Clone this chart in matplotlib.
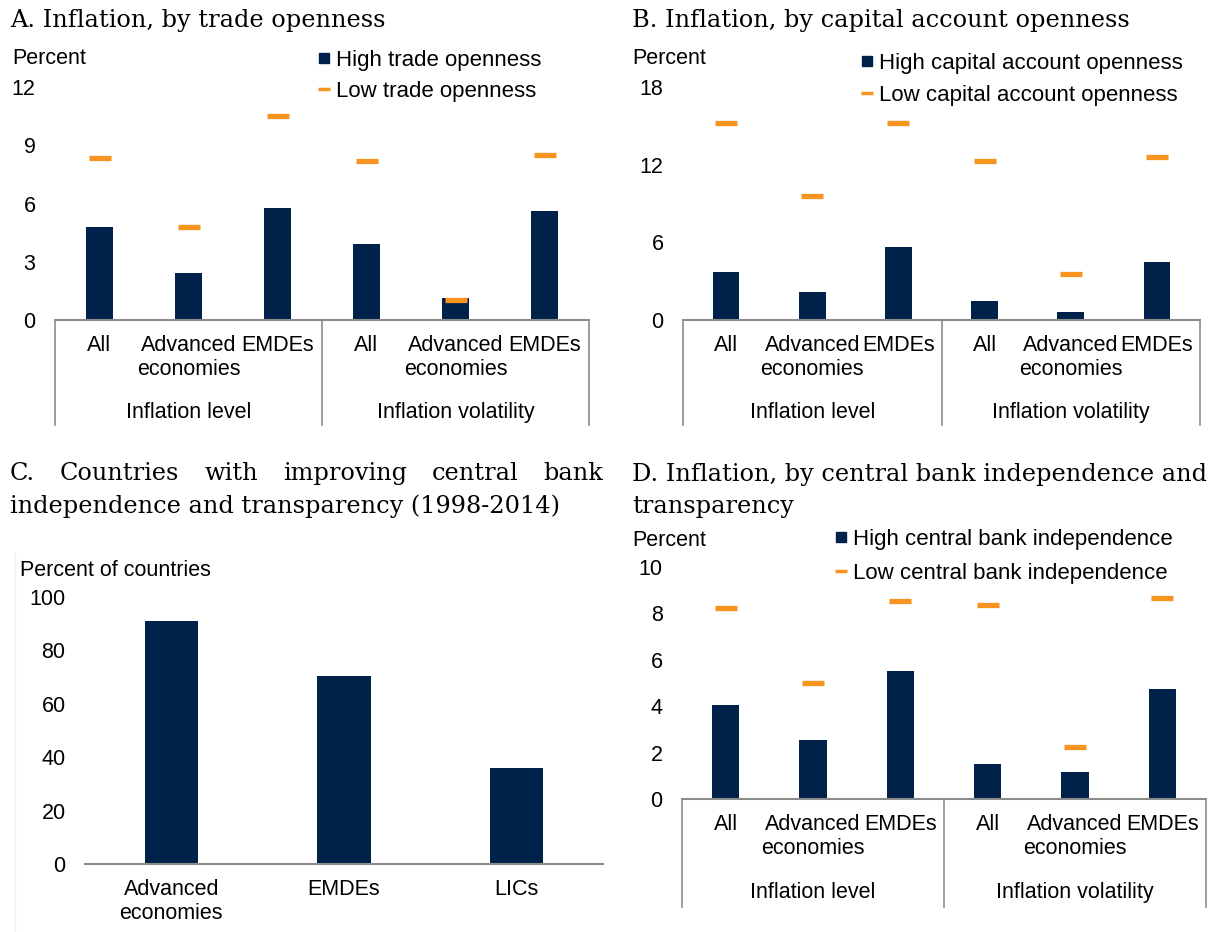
import matplotlib
matplotlib.use("Agg")
import matplotlib.pyplot as plt
from matplotlib.lines import Line2D

NAVY = "#00224A"
ORANGE = "#F7931E"
GRAY = "#8C8C8C"

# categories
cat_labels = ["All", "Advanced\neconomies", "EMDEs", "All", "Advanced\neconomies", "EMDEs"]
group_labels = ["Inflation level", "Inflation volatility"]

# panel A: trade openness
a_high = [4.8, 2.4, 5.75, 3.9, 1.15, 5.6]
a_low = [8.35, 4.8, 10.5, 8.2, 1.05, 8.5]

# panel B: capital account openness
b_high = [3.7, 2.15, 5.65, 1.5, 0.65, 4.45]
b_low = [15.2, 9.55, 15.2, 12.25, 3.55, 12.6]

# panel C: countries with improving CB independence
c_cats = ["Advanced\neconomies", "EMDEs", "LICs"]
c_vals = [91, 70.5, 36]

# panel D: central bank independence
d_high = [4.05, 2.55, 5.5, 1.5, 1.15, 4.75]
d_low = [8.25, 5.0, 8.55, 8.35, 2.25, 8.65]

W, H = 1208, 932
FS = 15.5
plt.rcParams["font.family"] = ["Liberation Sans", "DejaVu Sans"]
fig = plt.figure(figsize=(W / 100, H / 100), dpi=100)


def px_axes(left, right, top, bottom):
    return fig.add_axes([left / W, 1 - bottom / H, (right - left) / W, (bottom - top) / H])


def fx(x):
    return x / W


def fy(y):
    return 1 - y / H


def style_axis(ax):
    for s in ["left", "right", "top"]:
        ax.spines[s].set_visible(False)
    ax.spines["bottom"].set_color(GRAY)
    ax.spines["bottom"].set_linewidth(1.5)
    ax.tick_params(axis="both", length=0, labelsize=FS, pad=14)
    ax.tick_params(axis="x", pad=11)


def grouped_panel(ax, high, low, ymax, ystep, bottom_frac, label_off):
    x = list(range(len(high)))
    ax.bar(x, high, width=0.31, color=NAVY, zorder=2)
    ax.plot(x, low, linestyle="none", marker="_", markersize=16, markeredgewidth=3.8,
            color=ORANGE, zorder=3)
    ax.set_xlim(-0.5, len(high) - 0.5)
    ax.set_ylim(0, ymax)
    ax.set_yticks(range(0, ymax + 1, ystep))
    ax.set_xticks(x)
    ax.set_xticklabels(cat_labels, linespacing=1.2, va="top")
    style_axis(ax)
    tr = ax.get_xaxis_transform()
    for xv in [-0.5, 2.5, 5.5]:
        ax.plot([xv, xv], [0, bottom_frac], color=GRAY, lw=1.2, transform=tr, clip_on=False)
    for xv, g in zip([1, 4], group_labels):
        ax.text(xv, bottom_frac + label_off, g, transform=tr, ha="center", va="center", fontsize=FS)


def legend(ax, x, y, labels, spacing=0.45):
    handles = [
        Line2D([], [], linestyle="none", marker="s", markersize=7, color=NAVY),
        Line2D([], [], linestyle="none", marker="_", markersize=8, markeredgewidth=2.5, color=ORANGE),
    ]
    ax.legend(handles, labels, loc="upper left", bbox_to_anchor=(fx(x), fy(y)),
              bbox_transform=fig.transFigure, frameon=False, fontsize=16,
              handlelength=0.5, handletextpad=0.3, labelspacing=spacing, borderpad=0,
              borderaxespad=0)


title_kw = dict(family="DejaVu Serif", fontsize=17.3, va="center", ha="left")

# A
axA = px_axes(55, 589, 87, 320)
grouped_panel(axA, a_high, a_low, 12, 3, -0.45, 0.052)
fig.text(fx(10), fy(21), "A. Inflation, by trade openness", **title_kw)
fig.text(fx(12), fy(59), "Percent", fontsize=FS, va="center")
legend(axA, 318, 50, ["High trade openness", "Low trade openness"])

# B
axB = px_axes(683, 1200, 87, 320)
grouped_panel(axB, b_high, b_low, 18, 6, -0.45, 0.052)
fig.text(fx(632), fy(21), "B. Inflation, by capital account openness", **title_kw)
fig.text(fx(632), fy(59), "Percent", fontsize=FS, va="center")
legend(axB, 861, 53, ["High capital account openness", "Low capital account openness"], 0.5)

# C
axC = px_axes(85, 603, 597, 864)
axC.bar(range(len(c_vals)), c_vals, width=0.31, color=NAVY)
axC.set_xlim(-0.5, len(c_vals) - 0.5)
axC.set_ylim(0, 100)
axC.set_yticks(range(0, 101, 20))
axC.set_xticks(range(len(c_vals)))
axC.set_xticklabels(c_cats, linespacing=1.2, va="top")
style_axis(axC)
fig.text(fx(20), fy(571), "Percent of countries", fontsize=FS, va="center")
fig.add_artist(Line2D([fx(15), fx(15)], [fy(553), 0], color="#EFEFEF", lw=1))

# justified first line of panel C title
fig.canvas.draw()
renderer = fig.canvas.get_renderer()
words = ["C.", "Countries", "with", "improving", "central", "bank"]
x0, x1 = 10, 603
texts = [fig.text(0, fy(474), w, **title_kw) for w in words]
widths = [t.get_window_extent(renderer).width for t in texts]
gap = (x1 - x0 - sum(widths)) / (len(words) - 1)
pos = x0
for t, wd in zip(texts, widths):
    t.set_x(fx(pos))
    pos += wd + gap
fig.text(fx(10), fy(506), "independence and transparency (1998-2014)", **title_kw)

# D
axD = px_axes(682, 1206, 567, 799)
grouped_panel(axD, d_high, d_low, 10, 2, -0.465, 0.06)
fig.text(fx(632), fy(475), "D. Inflation, by central bank independence and", **title_kw)
fig.text(fx(632), fy(507), "transparency", **title_kw)
fig.text(fx(632), fy(540), "Percent", fontsize=FS, va="center")
legend(axD, 835, 529, ["High central bank independence", "Low central bank independence"], 0.58)

fig.savefig("out.png", dpi=100)
